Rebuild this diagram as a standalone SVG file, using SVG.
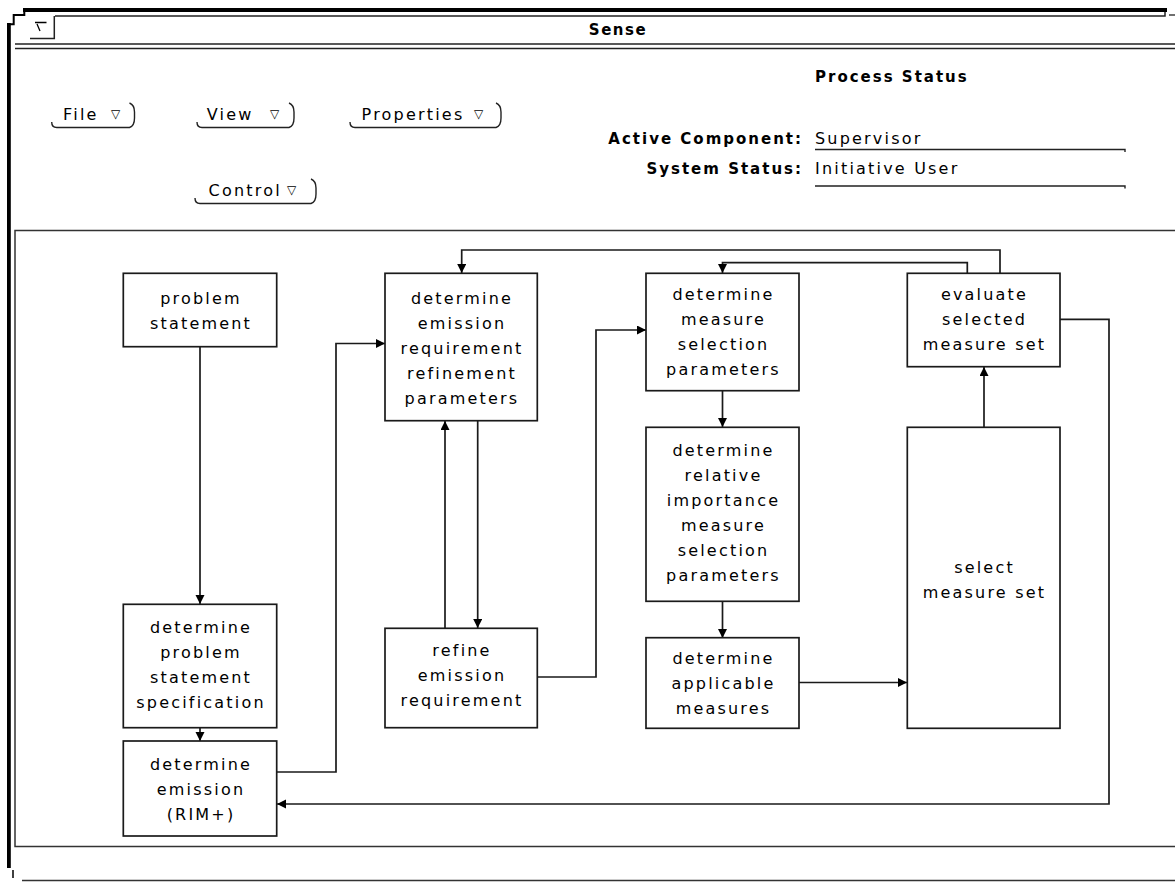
<svg xmlns="http://www.w3.org/2000/svg" width="1175" height="882" viewBox="0 0 1175 882">
<defs>
<style>
.bx{fill:#fff;stroke:#1a1a1a;stroke-width:1.7}
.t{font-family:"DejaVu Sans",sans-serif;font-size:16px;letter-spacing:2.2px;fill:#000;text-anchor:middle}
.m{font-family:"DejaVu Sans",sans-serif;font-size:16px;letter-spacing:2.2px;fill:#000}
.tri{font-family:"DejaVu Sans",sans-serif;font-size:12px;fill:#000}
.b{font-family:"DejaVu Sans",sans-serif;font-size:15px;font-weight:bold;letter-spacing:2px;fill:#000}
.ln{fill:none;stroke:#1a1a1a;stroke-width:1.7}
.btn{fill:none;stroke:#222;stroke-width:1.4}
.c{fill:none;stroke:#1a1a1a;stroke-width:1.7;marker-end:url(#ah)}
</style>
<marker id="ah" markerUnits="userSpaceOnUse" markerWidth="10" markerHeight="10" refX="9" refY="4.5" orient="auto">
<path d="M0,0 L9,4.5 L0,9 z" fill="#000"/>
</marker>
</defs>
<rect width="1175" height="882" fill="#fff"/>

<g id="window">
<rect x="23" y="8" width="1144" height="4" fill="#000"/>
<rect x="7" y="23" width="3.8" height="845" fill="#000"/>
<path d="M24.3,11 V15 H13.7 V24.3 H8" fill="none" stroke="#000" stroke-width="2"/>
<path d="M55,16 H1165 V12" fill="none" stroke="#222" stroke-width="1.5"/>
<line x1="1169" y1="15" x2="1175" y2="15" stroke="#222" stroke-width="1.3"/>
<path d="M30,38.5 H54.3 V16" fill="none" stroke="#222" stroke-width="1.5"/>
<path d="M35,22.5 H46.5 M37,24 L40,31" fill="none" stroke="#000" stroke-width="1.3"/>
<line x1="15" y1="44" x2="1175" y2="44" stroke="#222" stroke-width="1.5"/>
<line x1="15" y1="48.5" x2="1175" y2="48.5" stroke="#222" stroke-width="1.5"/>
<text x="618" y="35" class="b" text-anchor="middle" style="letter-spacing:1.5px">Sense</text>
<line x1="13" y1="870" x2="13" y2="878" stroke="#000" stroke-width="1.5"/>
<line x1="22" y1="880.5" x2="1175" y2="880.5" stroke="#333" stroke-width="1.4"/>
</g>

<g id="menus">
<g id="menu-file">
<path class="btn" d="M51.7,122 Q51.7,127.5 56.7,127.5 H129.5 Q134.5,126 134.5,118 V112 Q134.5,105 129.5,103"/>
<text x="63" y="119.5" class="m">File</text>
<text x="111" y="118" class="tri">▽</text>
</g>
<g id="menu-view">
<path class="btn" d="M197,122 Q197,127.5 202,127.5 H289 Q294,126 294,118 V112 Q294,105 289,103"/>
<text x="206.7" y="119.5" class="m">View</text>
<text x="270" y="118" class="tri">▽</text>
</g>
<g id="menu-properties">
<path class="btn" d="M350,122 Q350,127.5 355,127.5 H496 Q501,126 501,118 V112 Q501,105 496,103"/>
<text x="361.6" y="119.5" class="m">Properties</text>
<text x="474" y="118" class="tri">▽</text>
</g>
<g id="menu-control">
<path class="btn" d="M195,198 Q195,203.5 200,203.5 H311 Q316,202 316,194 V188 Q316,181 311,179"/>
<text x="208.6" y="195.5" class="m">Control</text>
<text x="287" y="194" class="tri">▽</text>
</g>
</g>

<g id="status">
<text x="815" y="82" class="b">Process Status</text>
<text x="803" y="143.5" class="b" text-anchor="end">Active Component:</text>
<text x="815" y="143.5" class="m">Supervisor</text>
<path d="M815,149.5 H1125 V152" fill="none" stroke="#222" stroke-width="1.4"/>
<text x="803" y="174" class="b" text-anchor="end">System Status:</text>
<text x="815" y="174" class="m">Initiative User</text>
<path d="M815,186 H1125 V188.5" fill="none" stroke="#222" stroke-width="1.4"/>
</g>

<rect id="panel" x="15" y="230.5" width="1175" height="616" fill="none" stroke="#333" stroke-width="1.5"/>

<g id="connectors">
<path class="c" d="M200,347 V604"/>
<path class="c" d="M200,728 V741"/>
<path class="c" d="M277,772 H336 V343.5 H385"/>
<path class="c" d="M477.7,421 V628"/>
<path class="c" d="M445,628 V421"/>
<path class="c" d="M537,677 H596 V330 H646"/>
<path class="c" d="M722.5,391 V427"/>
<path class="c" d="M722.5,601 V638"/>
<path class="c" d="M799,682.5 H907"/>
<path class="c" d="M984,427 V367"/>
<path class="c" d="M967.3,273 V262.7 H722.5 V273"/>
<path class="c" d="M1000,273 V250 H461.7 V273"/>
<path class="c" d="M1060,319.3 H1109 V804 H277"/>
</g>

<g id="n1">
<rect class="bx" x="123.3" y="273.3" width="153.4" height="73.4"/>
<text class="t" x="201" y="304">problem</text>
<text class="t" x="201" y="329">statement</text>
</g>
<g id="n2">
<rect class="bx" x="385" y="273.3" width="152.3" height="147.4"/>
<text class="t" x="462" y="304">determine</text>
<text class="t" x="462" y="329">emission</text>
<text class="t" x="462" y="354">requirement</text>
<text class="t" x="462" y="379">refinement</text>
<text class="t" x="462" y="404">parameters</text>
</g>
<g id="n3">
<rect class="bx" x="123.3" y="604.3" width="153.4" height="123.4"/>
<text class="t" x="201" y="633">determine</text>
<text class="t" x="201" y="658">problem</text>
<text class="t" x="201" y="683">statement</text>
<text class="t" x="201" y="708">specification</text>
</g>
<g id="n4">
<rect class="bx" x="123.3" y="741" width="153.4" height="95"/>
<text class="t" x="201" y="770">determine</text>
<text class="t" x="201" y="795">emission</text>
<text class="t" x="201" y="820">(RIM+)</text>
</g>
<g id="n5">
<rect class="bx" x="385" y="628.3" width="152.3" height="99.4"/>
<text class="t" x="462" y="656">refine</text>
<text class="t" x="462" y="681">emission</text>
<text class="t" x="462" y="706">requirement</text>
</g>
<g id="n6">
<rect class="bx" x="646" y="273.3" width="153" height="117.4"/>
<text class="t" x="723.5" y="300">determine</text>
<text class="t" x="723.5" y="325">measure</text>
<text class="t" x="723.5" y="350">selection</text>
<text class="t" x="723.5" y="375">parameters</text>
</g>
<g id="n7">
<rect class="bx" x="646" y="427.3" width="153" height="174"/>
<text class="t" x="723.5" y="456">determine</text>
<text class="t" x="723.5" y="481">relative</text>
<text class="t" x="723.5" y="506">importance</text>
<text class="t" x="723.5" y="531">measure</text>
<text class="t" x="723.5" y="556">selection</text>
<text class="t" x="723.5" y="581">parameters</text>
</g>
<g id="n8">
<rect class="bx" x="646" y="637.7" width="153" height="90.6"/>
<text class="t" x="723.5" y="664">determine</text>
<text class="t" x="723.5" y="689">applicable</text>
<text class="t" x="723.5" y="714">measures</text>
</g>
<g id="n9">
<rect class="bx" x="907.3" y="273.3" width="152.7" height="93.4"/>
<text class="t" x="984.5" y="300">evaluate</text>
<text class="t" x="984.5" y="325">selected</text>
<text class="t" x="984.5" y="350">measure set</text>
</g>
<g id="n10">
<rect class="bx" x="907.3" y="427.3" width="152.7" height="301"/>
<text class="t" x="984.5" y="573">select</text>
<text class="t" x="984.5" y="598">measure set</text>
</g>
</svg>
